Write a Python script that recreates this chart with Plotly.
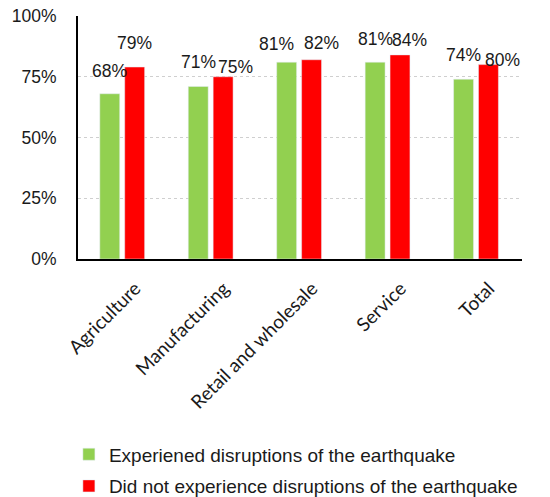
import plotly.graph_objects as go

sectors = ["Agriculture", "Manufacturing", "Retail and wholesale", "Service", "Total"]
experienced = [0.68, 0.71, 0.81, 0.81, 0.74]
not_experienced = [0.79, 0.75, 0.82, 0.84, 0.80]
series_names = [
    "Experiened disruptions of the earthquake",
    "Did not experience disruptions of the earthquake",
]
y_ticks = [0, 0.25, 0.5, 0.75, 1.0]

GREEN = "#92d050"
RED = "#ff0000"

# hand-placed label nudges (px): (dx, dy) relative to the top centre of each bar
green_nudge = [(0, 23), (0, 24), (-10, 18), (0, 23), (0, 24)]
red_nudge = [(0, 24), (12, 10), (10, 17), (9, 15), (14, 5)]

fig = go.Figure()
fig.add_trace(go.Bar(x=sectors, y=experienced, name=series_names[0],
                     marker_color=GREEN, legendgroup="a"))
fig.add_trace(go.Bar(x=sectors, y=not_experienced, name=series_names[1],
                     marker_color=RED, legendgroup="b"))

label_font = dict(family="Liberation Sans, Arial, sans-serif", size=17.5, color="#1a1a1a")
for vals, nudges, side in ((experienced, green_nudge, -12.5), (not_experienced, red_nudge, 12.5)):
    for cat, v, (dx, dy) in zip(sectors, vals, nudges):
        fig.add_annotation(x=cat, y=v, xref="x", yref="y", text=f"{round(v * 100)}%",
                           showarrow=False, xanchor="center", yanchor="middle",
                           xshift=side + dx, yshift=dy, font=label_font)

fig.update_layout(
    width=550, height=497,
    margin=dict(l=78, r=28, t=16, b=238, autoexpand=False),
    paper_bgcolor="white", plot_bgcolor="white",
    barmode="group", bargap=0.437, bargroupgap=0.2,
    showlegend=True,
    legend=dict(
        x=-0.0205, y=-0.7257,
        xanchor="left", yanchor="top", tracegroupgap=4,
        font=dict(family="Liberation Sans, Arial, sans-serif", size=19, color="#1a1a1a"),
        bgcolor="rgba(0,0,0,0)",
    ),
    xaxis=dict(
        type="category", tickangle=-45, showline=True, linecolor="black", linewidth=2,
        ticks="", showgrid=False, automargin=False,
        ticklabelshift=13, ticklabelstandoff=9,
        tickfont=dict(family="Lato, Carlito, sans-serif", size=19, color="#1a1a1a"),
    ),
    yaxis=dict(
        range=[0, 1.0], tickvals=y_ticks, tickformat=".0%",
        showline=True, linecolor="black", linewidth=2, automargin=False,
        showgrid=True, gridcolor="#cfcfcf", griddash="dot", gridwidth=1,
        zeroline=False, ticks="", ticklabelstandoff=16,
        tickfont=dict(family="Liberation Sans, Arial, sans-serif", size=17.5, color="#1a1a1a"),
    ),
)

fig.write_html("out.html")
